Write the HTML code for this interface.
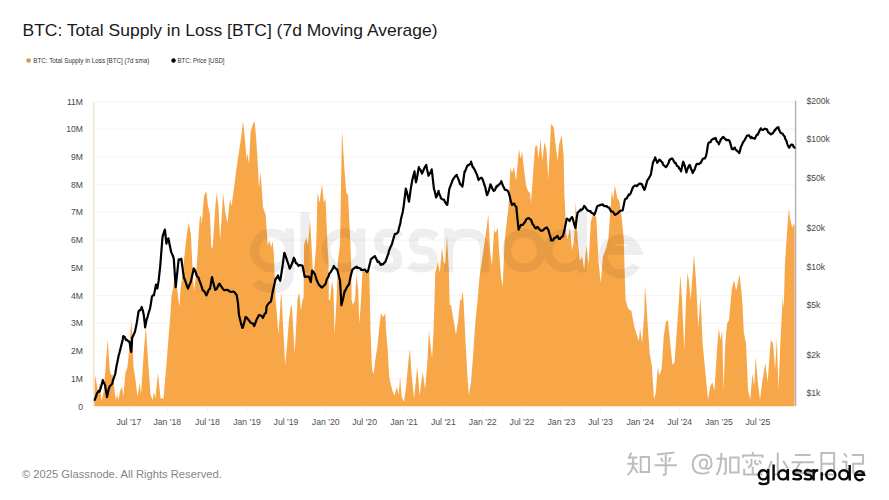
<!DOCTYPE html>
<html><head><meta charset="utf-8">
<style>
html,body{margin:0;padding:0;background:#fff;}
body{width:889px;height:500px;overflow:hidden;position:relative;font-family:"Liberation Sans",sans-serif;}
svg{position:absolute;left:0;top:0;}
</style></head><body>
<svg width="889" height="500" viewBox="0 0 889 500" font-family="Liberation Sans, sans-serif">
<text x="22.5" y="36" font-size="16.4" fill="#1a1a1a" textLength="415" lengthAdjust="spacingAndGlyphs">BTC: Total Supply in Loss [BTC] (7d Moving Average)</text>
<circle cx="28.6" cy="60.5" r="2.3" fill="#cf9b52"/>
<text x="33.3" y="62.8" font-size="6.6" fill="#333" textLength="116" lengthAdjust="spacingAndGlyphs">BTC: Total Supply in Loss [BTC] (7d sma)</text>
<circle cx="173.5" cy="60.5" r="2.2" fill="#000"/>
<text x="177.5" y="62.8" font-size="6.6" fill="#333" textLength="47" lengthAdjust="spacingAndGlyphs">BTC: Price [USD]</text>
<line x1="96" y1="101.5" x2="795" y2="101.5" stroke="#f6f6f6" stroke-width="1.2"/><line x1="96" y1="129.2" x2="795" y2="129.2" stroke="#f6f6f6" stroke-width="1.2"/><line x1="96" y1="157.0" x2="795" y2="157.0" stroke="#f6f6f6" stroke-width="1.2"/><line x1="96" y1="184.7" x2="795" y2="184.7" stroke="#f6f6f6" stroke-width="1.2"/><line x1="96" y1="212.4" x2="795" y2="212.4" stroke="#f6f6f6" stroke-width="1.2"/><line x1="96" y1="240.1" x2="795" y2="240.1" stroke="#f6f6f6" stroke-width="1.2"/><line x1="96" y1="267.9" x2="795" y2="267.9" stroke="#f6f6f6" stroke-width="1.2"/><line x1="96" y1="295.6" x2="795" y2="295.6" stroke="#f6f6f6" stroke-width="1.2"/><line x1="96" y1="323.3" x2="795" y2="323.3" stroke="#f6f6f6" stroke-width="1.2"/><line x1="96" y1="351.0" x2="795" y2="351.0" stroke="#f6f6f6" stroke-width="1.2"/><line x1="96" y1="378.8" x2="795" y2="378.8" stroke="#f6f6f6" stroke-width="1.2"/>
<g font-size="8.6" fill="#4a4a4a"><text x="83" y="104.5" text-anchor="end">11M</text><text x="83" y="132.2" text-anchor="end">10M</text><text x="83" y="160.0" text-anchor="end">9M</text><text x="83" y="187.7" text-anchor="end">8M</text><text x="83" y="215.4" text-anchor="end">7M</text><text x="83" y="243.1" text-anchor="end">6M</text><text x="83" y="270.9" text-anchor="end">5M</text><text x="83" y="298.6" text-anchor="end">4M</text><text x="83" y="326.3" text-anchor="end">3M</text><text x="83" y="354.0" text-anchor="end">2M</text><text x="83" y="381.8" text-anchor="end">1M</text><text x="83" y="409.5" text-anchor="end">0</text><text x="806.5" y="104.0">$200k</text><text x="806.5" y="142.0">$100k</text><text x="806.5" y="181.0">$50k</text><text x="806.5" y="231.0">$20k</text><text x="806.5" y="270.0">$10k</text><text x="806.5" y="308.0">$5k</text><text x="806.5" y="358.0">$2k</text><text x="806.5" y="396.0">$1k</text></g>
<g font-size="8.7" fill="#505050"><text x="128.8" y="424.5" text-anchor="middle">Jul '17</text><text x="167.3" y="424.5" text-anchor="middle">Jan '18</text><text x="207.5" y="424.5" text-anchor="middle">Jul '18</text><text x="247.0" y="424.5" text-anchor="middle">Jan '19</text><text x="286.0" y="424.5" text-anchor="middle">Jul '19</text><text x="325.7" y="424.5" text-anchor="middle">Jan '20</text><text x="364.6" y="424.5" text-anchor="middle">Jul '20</text><text x="404.0" y="424.5" text-anchor="middle">Jan '21</text><text x="443.3" y="424.5" text-anchor="middle">Jul '21</text><text x="482.7" y="424.5" text-anchor="middle">Jan '22</text><text x="522.0" y="424.5" text-anchor="middle">Jul '22</text><text x="561.4" y="424.5" text-anchor="middle">Jan '23</text><text x="600.4" y="424.5" text-anchor="middle">Jul '23</text><text x="640.3" y="424.5" text-anchor="middle">Jan '24</text><text x="679.7" y="424.5" text-anchor="middle">Jul '24</text><text x="719.0" y="424.5" text-anchor="middle">Jan '25</text><text x="757.9" y="424.5" text-anchor="middle">Jul '25</text></g>
<line x1="128.8" y1="407" x2="128.8" y2="413" stroke="#f3f3f3" stroke-width="1"/><line x1="167.3" y1="407" x2="167.3" y2="413" stroke="#f3f3f3" stroke-width="1"/><line x1="207.5" y1="407" x2="207.5" y2="413" stroke="#f3f3f3" stroke-width="1"/><line x1="247.0" y1="407" x2="247.0" y2="413" stroke="#f3f3f3" stroke-width="1"/><line x1="286.0" y1="407" x2="286.0" y2="413" stroke="#f3f3f3" stroke-width="1"/><line x1="325.7" y1="407" x2="325.7" y2="413" stroke="#f3f3f3" stroke-width="1"/><line x1="364.6" y1="407" x2="364.6" y2="413" stroke="#f3f3f3" stroke-width="1"/><line x1="404.0" y1="407" x2="404.0" y2="413" stroke="#f3f3f3" stroke-width="1"/><line x1="443.3" y1="407" x2="443.3" y2="413" stroke="#f3f3f3" stroke-width="1"/><line x1="482.7" y1="407" x2="482.7" y2="413" stroke="#f3f3f3" stroke-width="1"/><line x1="522.0" y1="407" x2="522.0" y2="413" stroke="#f3f3f3" stroke-width="1"/><line x1="561.4" y1="407" x2="561.4" y2="413" stroke="#f3f3f3" stroke-width="1"/><line x1="600.4" y1="407" x2="600.4" y2="413" stroke="#f3f3f3" stroke-width="1"/><line x1="640.3" y1="407" x2="640.3" y2="413" stroke="#f3f3f3" stroke-width="1"/><line x1="679.7" y1="407" x2="679.7" y2="413" stroke="#f3f3f3" stroke-width="1"/><line x1="719.0" y1="407" x2="719.0" y2="413" stroke="#f3f3f3" stroke-width="1"/><line x1="757.9" y1="407" x2="757.9" y2="413" stroke="#f3f3f3" stroke-width="1"/>
<path d="M93.5,406.2 L94.1,406.0 L94.8,374.0 L96.1,380.8 L98.2,391.7 L99.5,383.5 L101.6,401.2 L103.6,391.7 L105.6,367.2 L107.7,339.0 L109.7,370.0 L111.1,375.4 L112.4,374.0 L113.8,384.9 L115.9,399.9 L117.2,394.4 L118.6,399.9 L119.9,391.7 L122.0,386.3 L123.3,397.1 L125.4,372.7 L127.4,367.2 L128.8,353.6 L131.5,319.9 L133.5,367.2 L135.6,380.8 L137.6,397.1 L139.7,382.2 L141.0,394.4 L143.7,353.6 L145.8,326.7 L148.5,367.2 L150.5,394.4 L152.6,399.9 L153.9,391.7 L155.3,398.5 L158.0,372.7 L159.4,387.6 L160.7,398.5 L163.5,398.5 L166.2,367.2 L168.2,341.7 L170.3,315.8 L171.6,295.4 L173.0,288.6 L175.0,275.0 L177.1,288.6 L178.4,300.0 L179.5,306.0 L180.5,290.0 L182.5,275.0 L184.0,260.0 L184.7,253.3 L186.8,234.2 L188.8,222.6 L190.9,234.2 L192.2,261.4 L193.4,285.0 L194.3,290.0 L195.4,280.0 L197.0,261.4 L198.3,241.0 L199.7,217.9 L201.0,215.2 L201.7,224.7 L203.1,207.0 L204.0,196.0 L206.4,191.0 L208.0,206.0 L209.9,213.8 L211.3,247.8 L212.6,247.8 L214.0,227.4 L215.3,207.0 L216.6,193.0 L218.5,207.0 L220.1,239.7 L221.5,220.6 L223.0,193.0 L225.0,210.0 L225.5,213.8 L227.6,223.3 L229.0,207.0 L230.0,199.0 L231.5,206.0 L234.0,188.0 L236.0,172.0 L238.0,158.0 L239.4,149.0 L241.0,138.0 L243.0,121.0 L245.0,140.0 L246.6,160.0 L247.4,153.0 L249.0,164.0 L250.6,132.0 L253.0,124.0 L254.6,121.0 L256.0,136.0 L257.4,158.0 L259.0,188.0 L260.6,172.0 L262.0,192.0 L263.0,207.0 L265.7,215.2 L267.7,245.1 L269.8,241.0 L271.1,247.8 L272.5,241.0 L273.8,253.3 L274.7,275.0 L275.2,290.0 L275.6,300.0 L277.0,315.0 L278.4,334.0 L280.0,312.0 L280.6,300.0 L281.2,292.0 L281.8,300.0 L283.0,325.0 L285.2,365.0 L287.0,345.0 L289.0,320.0 L291.0,305.0 L292.0,307.0 L294.7,354.0 L297.5,300.0 L298.5,295.0 L299.3,293.0 L300.0,300.0 L300.8,311.0 L302.5,300.0 L303.6,298.0 L304.1,245.0 L306.2,237.5 L308.0,245.0 L310.0,220.0 L311.5,245.0 L312.8,270.0 L313.8,275.0 L314.9,260.0 L316.2,245.0 L317.5,192.5 L319.5,202.5 L322.0,183.8 L323.8,202.5 L325.5,198.8 L327.5,245.0 L328.5,260.0 L328.8,300.0 L330.0,300.0 L332.0,281.0 L333.5,290.0 L334.6,335.0 L336.5,300.0 L338.0,260.0 L340.0,245.0 L342.0,130.0 L344.5,170.0 L346.2,192.5 L348.0,195.0 L350.5,245.0 L351.3,270.0 L351.6,300.0 L353.0,305.0 L355.0,300.0 L356.5,274.0 L358.2,290.0 L359.3,324.5 L361.0,300.0 L362.5,271.0 L364.0,271.0 L366.0,273.0 L369.3,271.0 L370.5,330.0 L372.0,369.0 L373.6,374.5 L375.1,361.2 L377.5,345.6 L379.0,330.0 L381.0,313.0 L383.1,317.3 L385.3,313.0 L386.0,330.0 L387.6,348.7 L389.2,376.8 L392.3,390.8 L394.6,395.5 L397.0,386.2 L398.6,395.5 L400.1,376.8 L401.7,397.0 L404.0,401.8 L406.3,384.6 L408.4,361.2 L409.9,348.7 L411.8,376.8 L414.1,398.6 L417.3,365.9 L419.6,395.5 L422.7,372.1 L425.1,389.3 L427.4,361.2 L429.0,330.0 L430.5,345.6 L432.1,358.1 L433.6,330.0 L435.3,272.6 L438.0,261.8 L439.8,272.6 L442.0,247.4 L443.7,261.8 L445.2,265.0 L447.0,235.7 L448.8,269.0 L449.7,305.0 L451.0,305.0 L453.8,321.6 L455.9,334.6 L458.0,321.6 L460.2,300.0 L461.4,300.0 L462.6,291.4 L463.5,300.0 L465.6,343.2 L467.8,382.0 L468.9,395.0 L471.0,382.0 L473.2,354.0 L475.4,321.6 L477.6,300.0 L479.4,278.0 L482.0,260.0 L484.7,242.0 L486.9,225.8 L488.3,214.0 L490.1,251.0 L492.0,265.4 L494.1,229.4 L495.6,233.0 L497.7,227.6 L499.1,251.0 L500.9,276.0 L502.7,287.0 L504.5,242.0 L506.3,225.8 L508.1,210.0 L509.0,200.0 L510.4,167.0 L512.0,173.0 L514.0,167.0 L516.0,181.0 L519.0,149.0 L520.6,159.0 L522.0,151.0 L524.0,169.0 L526.0,185.0 L528.0,191.0 L530.0,193.0 L531.0,203.0 L533.0,175.0 L535.0,147.0 L537.0,145.0 L538.6,159.0 L540.4,139.0 L542.4,161.0 L544.4,142.0 L546.4,149.0 L548.4,179.0 L551.0,124.0 L553.6,127.0 L555.6,145.0 L557.6,161.0 L559.0,145.0 L561.6,135.0 L563.6,155.0 L564.4,195.0 L564.8,201.6 L566.2,234.6 L567.7,239.0 L569.9,228.0 L572.1,250.0 L574.0,240.0 L575.8,201.6 L577.6,239.0 L579.8,261.0 L582.0,256.6 L584.2,269.8 L586.4,245.6 L588.6,265.0 L590.8,221.4 L593.0,214.8 L596.3,217.0 L598.5,261.0 L600.7,283.0 L602.9,256.6 L606.2,247.8 L608.4,239.0 L610.2,212.6 L611.9,190.9 L613.4,199.5 L614.7,185.5 L616.8,195.2 L617.3,198.0 L619.4,201.6 L621.6,217.0 L623.8,239.0 L624.6,270.0 L625.6,300.0 L628.1,308.6 L631.3,310.8 L634.6,328.1 L636.7,334.6 L638.9,341.0 L640.0,328.1 L642.1,343.2 L644.3,313.0 L644.9,285.7 L646.4,303.0 L647.5,321.6 L649.7,354.0 L651.8,364.8 L654.0,399.4 L655.7,393.0 L657.9,367.0 L659.4,375.6 L661.6,369.0 L663.7,336.7 L665.9,321.6 L668.0,320.5 L670.2,343.2 L672.4,364.8 L674.5,362.6 L676.7,332.4 L678.9,300.0 L680.4,274.9 L682.0,300.0 L684.3,349.7 L686.0,300.0 L687.5,272.8 L689.0,281.4 L690.7,300.0 L694.0,254.4 L696.1,281.4 L698.3,328.1 L700.5,296.5 L702.6,343.2 L705.9,377.8 L708.0,399.4 L710.2,386.4 L712.3,382.0 L714.5,390.7 L716.7,354.0 L718.8,328.1 L720.5,340.0 L722.2,330.3 L723.5,390.0 L725.3,343.2 L727.0,324.0 L729.0,320.0 L730.8,300.0 L731.9,288.6 L734.0,280.0 L736.2,290.8 L739.5,274.6 L741.6,293.0 L742.7,308.0 L743.8,332.4 L746.0,343.2 L748.1,390.8 L750.3,399.5 L752.4,373.5 L754.2,386.5 L755.7,356.2 L757.8,382.0 L760.0,399.5 L762.2,382.0 L765.4,362.7 L767.6,382.0 L770.8,340.0 L773.0,343.2 L775.1,369.2 L776.9,337.8 L778.4,390.8 L780.5,338.9 L782.7,297.3 L783.8,308.0 L784.9,264.9 L787.0,232.4 L788.8,208.6 L790.3,219.5 L792.4,228.1 L793.5,223.8 L794.6,226.0 L794.6,406.2 Z" fill="#f8a748"/>
<g transform="translate(250,228.5) scale(44)" ><path d="M0.5,0.10249999999999998 A0.3975,0.3975 0 1 0 0.5,0.8975 A0.3975,0.3975 0 1 0 0.5,0.10249999999999998 M0.8975,0 V1.0 Q0.8975,1.36 0.52,1.36 Q0.27,1.36 0.13,1.22 M1.25,-0.37 V1 M2.12,0.10249999999999998 A0.3975,0.3975 0 1 0 2.12,0.8975 A0.3975,0.3975 0 1 0 2.12,0.10249999999999998 M2.5175,0 V1 M3.41,0.2 Q3.31,0.1025 3.1399999999999997,0.1025 Q2.9225,0.1025 2.9225,0.3 Q2.9225,0.5 3.1399999999999997,0.5 Q3.3575,0.5 3.3575,0.72 Q3.3575,0.8975 3.1399999999999997,0.8975 Q2.94,0.8975 2.8499999999999996,0.82 M4.22,0.2 Q4.119999999999999,0.1025 3.94,0.1025 Q3.7125,0.1025 3.7125,0.3 Q3.7125,0.5 3.94,0.5 Q4.1674999999999995,0.5 4.1674999999999995,0.72 Q4.1674999999999995,0.8975 3.94,0.8975 Q3.73,0.8975 3.6399999999999997,0.82 M4.5125,0 V1 M4.5125,0.5 Q4.5125,0.1025 4.93,0.1025 Q5.3275,0.1025 5.3275,0.5 V1 M6.23,0.10249999999999998 A0.3975,0.3975 0 1 0 6.23,0.8975 A0.3975,0.3975 0 1 0 6.23,0.10249999999999998 M7.17,0.10249999999999998 A0.3975,0.3975 0 1 0 7.17,0.8975 A0.3975,0.3975 0 1 0 7.17,0.10249999999999998 M7.5575,-0.37 V1 M8.1025,0.5 H8.797500000000001 A0.3975,0.3975 0 1 0 8.77,0.83" fill="none" stroke="rgba(0,0,0,0.065)" stroke-width="0.205" stroke-linecap="butt"/></g>
<line x1="93.7" y1="102" x2="93.7" y2="406" stroke="#f0e6cf" stroke-width="1.5"/>
<line x1="795.6" y1="100.8" x2="795.6" y2="406" stroke="#b0b0b0" stroke-width="1.4"/>
<path d="M94.8,399.9 L96.8,393.9 L97.5,392.4 L98.8,391.0 L99.5,391.7 L100.8,387.9 L102.8,380.0 L102.9,380.8 L104.8,384.6 L105.0,384.9 L106.8,395.5 L107.0,397.1 L108.8,388.8 L109.7,386.3 L110.8,385.2 L112.4,383.5 L112.8,380.9 L114.8,375.2 L115.2,374.0 L116.8,364.2 L117.2,363.1 L118.8,354.8 L119.3,353.6 L120.8,347.3 L121.3,345.4 L122.8,339.2 L123.3,336.0 L124.8,337.2 L126.0,340.0 L126.8,339.7 L128.8,341.7 L129.5,341.7 L130.8,350.3 L131.3,352.0 L132.2,337.6 L132.8,336.6 L134.8,332.0 L134.9,332.1 L136.8,322.7 L138.3,313.1 L138.8,311.0 L140.8,309.5 L141.7,307.0 L142.8,310.6 L143.7,314.5 L144.8,323.7 L145.1,327.4 L146.8,318.8 L147.1,318.5 L148.8,312.2 L149.9,309.0 L150.8,304.3 L151.9,296.8 L152.8,295.3 L153.9,295.4 L154.8,290.9 L156.0,284.5 L156.8,287.4 L157.3,288.6 L158.7,280.4 L158.8,279.1 L160.2,266.3 L160.8,258.8 L162.4,238.2 L162.8,235.8 L164.8,229.6 L165.0,230.1 L166.4,243.7 L166.8,241.9 L168.4,238.3 L168.8,240.8 L170.8,250.2 L171.1,251.9 L172.8,255.7 L173.8,258.7 L174.8,273.9 L175.7,287.2 L176.8,276.8 L178.6,260.0 L178.8,259.4 L180.8,259.7 L181.3,258.7 L182.8,270.2 L183.9,277.7 L184.8,279.4 L186.8,285.6 L188.0,288.6 L188.8,286.4 L190.8,281.7 L191.4,279.0 L192.8,273.1 L193.7,268.4 L194.8,270.0 L195.9,272.8 L196.8,276.0 L198.8,278.0 L198.8,279.0 L200.8,284.2 L202.8,290.4 L202.9,290.0 L204.8,292.1 L206.3,295.4 L206.8,294.5 L208.8,289.6 L210.0,288.6 L210.8,284.4 L212.0,277.0 L212.8,280.8 L214.8,288.2 L215.3,290.0 L216.8,288.7 L218.8,284.3 L219.6,283.6 L220.8,285.9 L222.8,288.6 L223.9,290.0 L224.8,290.2 L226.8,289.9 L228.2,290.0 L228.8,291.1 L230.8,292.0 L232.8,291.5 L234.7,292.2 L234.8,292.8 L236.8,295.2 L236.9,296.5 L238.0,303.0 L238.8,313.1 L239.0,315.0 L240.8,322.5 L242.3,328.0 L242.8,327.6 L244.8,320.2 L245.5,317.0 L246.8,317.8 L248.8,320.2 L249.9,321.6 L250.8,323.0 L252.8,323.3 L254.2,326.0 L254.8,324.5 L256.8,319.1 L258.5,316.0 L258.8,315.1 L260.8,315.5 L262.8,317.3 L262.8,318.0 L264.8,313.6 L266.0,313.0 L266.6,306.7 L266.8,305.8 L268.8,303.2 L270.8,301.6 L271.3,299.9 L272.8,291.3 L274.8,282.4 L275.4,279.5 L276.8,277.5 L278.1,275.4 L278.8,278.2 L280.2,280.8 L280.8,277.5 L282.8,264.1 L284.3,252.9 L284.8,253.7 L286.8,259.6 L287.0,260.4 L288.8,265.5 L289.7,268.6 L290.8,266.7 L292.8,261.5 L293.8,257.7 L294.8,259.5 L295.8,263.1 L296.8,263.3 L298.5,265.9 L298.8,265.2 L300.8,265.2 L302.6,265.9 L302.8,266.9 L304.7,276.7 L304.8,277.0 L306.8,276.7 L308.8,276.6 L309.4,278.1 L310.8,282.0 L310.8,282.2 L312.1,270.6 L312.8,271.1 L314.8,274.1 L314.9,274.0 L316.8,280.5 L318.3,283.5 L318.8,284.6 L320.8,286.6 L321.7,287.6 L322.8,286.8 L324.8,284.9 L325.7,283.5 L326.8,279.3 L328.8,275.9 L329.1,274.0 L330.8,271.9 L332.8,268.7 L333.9,265.9 L334.8,267.8 L336.8,269.1 L337.3,270.0 L338.8,275.7 L340.0,280.8 L340.8,293.8 L341.4,305.3 L342.8,300.0 L344.8,290.6 L344.8,291.7 L346.8,287.3 L348.8,284.3 L348.9,284.9 L350.8,275.6 L352.3,269.9 L352.8,269.3 L354.8,267.7 L356.8,266.7 L357.0,267.9 L358.8,267.9 L360.8,268.8 L361.1,270.0 L362.8,270.0 L364.8,269.5 L366.8,272.1 L367.9,271.3 L368.8,268.0 L370.6,260.4 L370.8,259.3 L372.8,257.6 L374.7,256.3 L374.8,256.1 L376.8,259.9 L377.7,262.0 L378.8,261.7 L380.8,264.9 L381.0,264.1 L382.8,264.5 L384.8,262.2 L385.3,262.0 L386.8,257.9 L388.5,253.3 L388.8,251.4 L390.8,246.3 L391.8,244.7 L392.8,240.9 L394.8,234.0 L395.0,233.9 L396.8,233.6 L398.3,231.7 L398.8,228.8 L400.4,223.1 L400.8,219.8 L402.8,211.7 L403.7,205.8 L404.8,196.9 L405.8,188.7 L406.8,191.8 L408.8,201.0 L409.0,201.7 L410.8,188.6 L412.3,180.0 L412.8,178.1 L414.5,171.4 L414.8,174.8 L416.0,182.3 L416.8,178.9 L418.8,167.1 L418.8,167.6 L420.8,170.5 L422.0,173.6 L422.8,171.7 L424.8,167.1 L426.3,165.0 L426.8,168.2 L428.5,175.8 L428.8,175.3 L430.8,171.9 L431.7,169.3 L432.8,178.6 L433.9,188.7 L434.8,191.5 L436.1,197.4 L436.8,196.4 L438.6,190.9 L438.8,192.8 L440.8,197.4 L440.8,198.3 L442.8,199.5 L444.0,199.5 L444.8,201.6 L446.8,204.7 L447.3,204.9 L448.8,192.6 L449.4,188.7 L450.8,185.1 L452.7,180.1 L452.8,179.6 L454.8,176.8 L456.8,174.8 L457.0,175.8 L458.8,180.1 L460.2,184.4 L460.8,184.4 L462.4,186.6 L462.8,184.3 L464.6,171.4 L464.8,172.2 L466.8,166.9 L467.8,165.0 L468.8,165.1 L470.8,163.2 L471.0,161.7 L472.8,167.3 L473.2,167.1 L474.8,170.0 L476.4,173.6 L476.8,174.1 L478.6,180.1 L478.8,179.3 L480.8,177.8 L481.8,177.9 L482.8,179.8 L484.8,186.1 L485.1,186.6 L486.8,194.6 L487.2,195.2 L488.8,190.8 L490.5,184.4 L490.8,185.0 L492.8,189.5 L493.7,190.9 L494.8,190.2 L496.8,185.8 L497.0,186.6 L498.8,184.8 L500.8,182.9 L501.3,181.2 L502.8,185.4 L504.5,188.7 L504.8,189.6 L506.8,190.2 L507.8,190.9 L508.8,193.0 L510.0,197.4 L510.8,201.2 L512.0,205.0 L512.8,204.1 L514.3,203.6 L514.8,205.2 L516.4,206.9 L516.8,212.3 L518.6,229.6 L518.8,228.9 L520.7,225.2 L520.8,224.9 L522.8,225.0 L524.0,223.1 L524.8,222.4 L526.1,219.8 L526.8,218.7 L528.8,218.0 L529.4,218.8 L530.8,219.4 L531.5,221.0 L532.8,224.5 L533.7,225.2 L534.8,227.6 L535.9,228.5 L536.8,227.1 L538.0,227.4 L538.8,228.8 L540.8,230.7 L542.3,230.6 L542.8,230.6 L544.8,228.4 L546.7,227.4 L546.8,227.7 L548.8,230.7 L548.8,231.7 L550.8,238.3 L551.0,240.4 L552.8,240.4 L554.2,238.2 L554.8,238.2 L556.8,236.5 L557.5,236.0 L558.8,238.7 L560.0,239.0 L560.8,237.8 L562.8,236.2 L563.3,234.6 L564.8,228.4 L566.6,219.2 L566.8,218.6 L568.8,219.9 L569.5,221.0 L570.8,218.5 L572.1,217.0 L572.8,218.7 L574.8,226.2 L575.4,228.0 L576.8,217.6 L577.6,212.6 L578.8,211.6 L580.8,209.5 L580.9,210.4 L582.8,208.9 L584.2,206.0 L584.8,206.4 L586.8,209.4 L587.5,210.4 L588.8,210.9 L590.5,211.0 L590.8,212.4 L592.8,213.2 L594.1,214.8 L594.8,214.0 L596.8,207.6 L597.4,206.0 L598.8,205.6 L600.7,204.9 L600.8,205.0 L602.8,204.3 L604.0,206.0 L604.8,206.1 L606.8,206.1 L607.3,207.1 L608.8,207.3 L610.6,210.4 L610.8,211.4 L612.8,211.7 L614.8,214.5 L615.0,214.8 L616.8,214.0 L618.8,212.1 L619.4,211.5 L620.8,210.6 L622.7,210.4 L622.8,209.9 L624.8,200.0 L624.9,199.4 L626.8,198.2 L628.8,194.5 L629.3,195.0 L630.2,194.1 L630.8,192.9 L632.8,187.5 L633.5,186.6 L634.8,185.6 L636.7,185.5 L636.8,186.1 L638.8,184.1 L640.0,183.3 L640.8,183.9 L642.1,184.4 L642.8,186.8 L644.3,189.8 L644.8,189.4 L646.8,182.1 L647.5,180.1 L648.8,178.3 L650.8,174.7 L650.8,174.7 L652.8,163.4 L652.9,162.8 L654.8,158.6 L655.1,157.4 L656.8,161.6 L657.2,162.8 L658.8,160.6 L659.4,159.6 L660.8,160.9 L662.6,162.8 L662.8,164.2 L664.8,166.2 L665.9,167.1 L666.8,166.3 L668.8,162.4 L669.1,160.6 L670.8,158.9 L672.4,158.5 L672.8,159.2 L674.8,162.9 L675.6,162.8 L676.8,165.6 L678.8,167.1 L678.9,168.2 L680.8,170.1 L681.0,171.4 L682.8,163.3 L683.2,161.7 L684.8,166.0 L686.4,172.5 L686.8,170.9 L688.8,165.9 L689.7,165.0 L690.8,168.0 L692.8,173.0 L692.9,172.5 L694.8,169.1 L696.1,165.0 L696.8,163.8 L698.8,164.2 L700.5,162.8 L700.8,162.8 L702.8,158.8 L703.7,158.5 L704.8,158.4 L705.9,156.3 L706.8,152.4 L708.0,144.4 L708.8,142.6 L710.8,141.9 L711.3,140.1 L712.8,139.1 L714.8,138.4 L715.6,138.0 L716.8,141.3 L718.8,143.4 L718.8,144.3 L720.8,139.5 L722.8,137.2 L723.1,136.9 L724.8,138.6 L726.4,140.1 L726.8,139.8 L728.8,140.1 L729.6,141.2 L730.8,144.9 L731.8,148.8 L732.8,149.4 L734.8,147.6 L735.0,148.8 L736.8,150.7 L738.8,152.4 L739.3,153.1 L740.8,147.4 L742.6,143.4 L742.8,142.6 L744.8,139.8 L746.8,136.0 L746.9,135.8 L748.8,135.2 L750.8,138.1 L751.2,136.9 L752.8,138.2 L754.5,138.0 L754.8,138.9 L756.8,134.6 L757.7,134.7 L758.8,132.2 L760.8,128.3 L760.9,129.3 L762.8,130.0 L764.8,128.7 L766.3,129.3 L766.8,129.1 L768.4,132.6 L768.8,132.5 L770.8,134.4 L771.7,133.6 L772.8,133.4 L774.8,130.0 L775.0,130.4 L776.8,127.8 L778.4,127.2 L778.8,129.3 L780.5,132.6 L780.8,132.9 L782.7,133.7 L782.8,134.4 L784.8,136.7 L784.9,138.0 L786.8,141.7 L787.0,143.4 L788.8,147.4 L789.2,147.7 L790.8,145.2 L791.4,144.5 L792.8,144.8 L793.5,146.6 L794.6,147.7" fill="none" stroke="#000" stroke-width="2.2" stroke-linejoin="round" stroke-linecap="round"/>
<text x="22" y="478.3" font-size="11.2" fill="#858585">© 2025 Glassnode. All Rights Reserved.</text>
<g transform="translate(626,451.5) scale(0.245)"><path d="M22,4 L10,30 M14,24 H46 M5,50 H48 M29,24 V52 Q27,80 6,96 M31,62 L48,88 M60,22 H94 V84 H60 Z" fill="none" stroke="#bdbdbd" stroke-width="8.2" stroke-linejoin="miter"/></g><g transform="translate(653.5,451.5) scale(0.245)"><path d="M14,12 L86,4 M30,26 L38,42 M70,24 L62,42 M4,56 H96 M50,14 V90 Q50,98 38,94" fill="none" stroke="#bdbdbd" stroke-width="8.2" stroke-linejoin="miter"/></g><g transform="translate(690,452) scale(0.235)"><path d="M70,62 Q66,70 60,70 Q40,70 42,50 Q44,32 60,32 Q76,32 72,50 L68,66 Q68,74 76,72 Q92,68 92,50 Q92,12 55,12 Q12,12 12,54 Q12,92 55,92 Q72,92 82,84" fill="none" stroke="#bdbdbd" stroke-width="8.2" stroke-linejoin="miter"/></g><g transform="translate(715.5,451.5) scale(0.245)"><path d="M4,30 H42 V84 Q42,94 32,90 M24,6 Q24,70 4,96 M60,24 H94 V86 H60 Z" fill="none" stroke="#bdbdbd" stroke-width="8.2" stroke-linejoin="miter"/></g><g transform="translate(740.5,451.5) scale(0.245)"><path d="M50,2 V12 M10,26 V16 H90 V26 M22,36 L30,48 M44,30 Q50,60 30,66 M62,34 Q52,54 74,52 M76,36 L84,50 M15,70 V94 H85 V70 M50,62 V94" fill="none" stroke="#bdbdbd" stroke-width="8.2" stroke-linejoin="miter"/></g><g transform="translate(765.5,451.5) scale(0.245)"><path d="M50,4 V88 Q50,97 38,93 M26,38 L10,74 M72,38 L92,70" fill="none" stroke="#bdbdbd" stroke-width="8.2" stroke-linejoin="miter"/></g><g transform="translate(790.5,451.5) scale(0.245)"><path d="M18,14 H82 M4,44 H96 M40,44 L14,88 H86 M66,68 L86,90" fill="none" stroke="#bdbdbd" stroke-width="8.2" stroke-linejoin="miter"/></g><g transform="translate(815.5,451.5) scale(0.245)"><path d="M24,6 H76 V94 H24 Z M24,50 H76" fill="none" stroke="#bdbdbd" stroke-width="8.2" stroke-linejoin="miter"/></g><g transform="translate(841,451.5) scale(0.245)"><path d="M12,8 L24,22 M4,42 H22 V82 L34,70 M44,14 H90 V50 H50 V84 Q50,92 60,92 H94 V78" fill="none" stroke="#bdbdbd" stroke-width="8.2" stroke-linejoin="miter"/></g>
<path d="M763.3,470.3 A4.55,4.55 0 1 0 763.3,479.40000000000003 A4.55,4.55 0 1 0 763.3,470.3 M768.3,469.1 V481.5 Q768.3,484.1 763.5,484.1 Q760.6,484.1 758.8,482.8 M773.6,464.4 V480.6 M782.9,470.3 A4.55,4.55 0 1 0 782.9,479.40000000000003 A4.55,4.55 0 1 0 782.9,470.3 M787.9,469.1 V480.6 M801.6999999999999,471.63 Q800.28,470.3 797.25,470.3 Q793.4000000000001,470.3 793.4000000000001,472.20500000000004 Q793.4000000000001,474.85 797.25,474.85 Q801.0999999999999,474.85 801.0999999999999,477.495 Q801.0999999999999,479.40000000000003 797.25,479.40000000000003 Q793.715,479.40000000000003 792.6,478.3 M812.1999999999999,471.63 Q810.98,470.3 808.25,470.3 Q804.9000000000001,470.3 804.9000000000001,472.20500000000004 Q804.9000000000001,474.85 808.25,474.85 Q811.5999999999999,474.85 811.5999999999999,477.495 Q811.5999999999999,479.40000000000003 808.25,479.40000000000003 Q805.065,479.40000000000003 804.1,478.3 M813.6,469.1 V480.6 M813.6,475 Q813.6,470.3 818.2,470.3 M821.7,472.3 V480.6 M830.8,470.3 A4.55,4.55 0 1 0 830.8,479.40000000000003 A4.55,4.55 0 1 0 830.8,470.3 M843.8,470.3 A4.55,4.55 0 1 0 843.8,479.40000000000003 A4.55,4.55 0 1 0 843.8,470.3 M849.7,465 V480.6 M855.2,474.85 H864.1999999999999 A4.55,4.55 0 1 0 863.2,478.6" fill="none" stroke="#0a0a0a" stroke-width="2.4"/>
</svg>
</body></html>
